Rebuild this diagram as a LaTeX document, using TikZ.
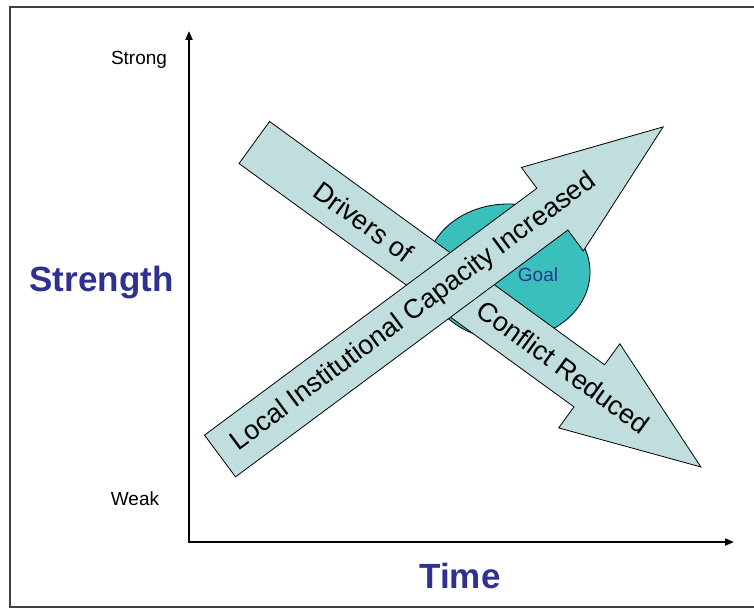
\documentclass[tikz,border=0pt]{standalone}
\usepackage{fontspec}
\setmainfont{Liberation Sans}
\usepackage{tikz}
\usetikzlibrary{arrows.meta}
\definecolor{headblue}{RGB}{46,49,146}
\definecolor{arrowfill}{RGB}{192,222,222}
\definecolor{goalteal}{RGB}{57,191,188}

\begin{document}
\begin{tikzpicture}[x=1pt,y=1pt,
    axis/.style={line width=2pt, line cap=rect, -{Triangle[length=9pt,width=7pt]}},
    blockarrow/.style={fill=arrowfill, draw=black, line width=0.8pt, line join=miter},
    small/.style={font=\fontsize{19}{22}\selectfont},
    big/.style={font=\fontsize{35}{40}\selectfont\bfseries, text=headblue},
    inarrow/.style={font=\fontsize{27}{30}\selectfont, inner sep=0pt}]
    \useasboundingbox (0,0) rectangle (754,610);
    \draw[line width=2pt, draw=black!75] (754,603) -- (10,603) -- (10,3) -- (754,3);

    % axes
    \coordinate (O) at (189,68);
    \coordinate (ytop) at (189,579);
    \coordinate (xend) at (734,68);
    \draw[axis] (O) -- (ytop);
    \draw[axis] (O) -- (xend);

    \node[small,anchor=base] (strong) at (139,545) {Strong};
    \node[small,anchor=base] (weak) at (135,104) {Weak};
    \node[big,anchor=base] (strength) at (101.5,318) {Strength};
    \node[big,anchor=base] (time) at (460,22) {Time};

    % goal
    \draw[fill=goalteal, line width=0.8pt] (508,338) ellipse [x radius=82, y radius=68];
    \node[small, text=headblue] (goal) at (538,335) {Goal};

    % drivers of conflict reduced
    \begin{scope}[shift={(254.3,467.5)}, rotate=-36, transform shape]
      \draw[blockarrow] (0,26) -- (414,26) -- (414,52) -- (552,0) -- (414,-52) -- (414,-26) -- (0,-26) -- cycle;
      \node[inarrow] (drivers) at (135,0) {Drivers of};
      \node[inarrow] (conflict) at (382,0) {Conflict Reduced};
    \end{scope}

    % local capacity increased
    \begin{scope}[shift={(220,154)}, rotate=36.6, transform shape]
      \draw[blockarrow] (0,26) -- (414,26) -- (414,52) -- (552,0) -- (414,-52) -- (414,-26) -- (0,-26) -- cycle;
      \node[inarrow] (capacity) at (241,0) {Local Institutional Capacity Increased};
    \end{scope}
\end{tikzpicture}
\end{document}
